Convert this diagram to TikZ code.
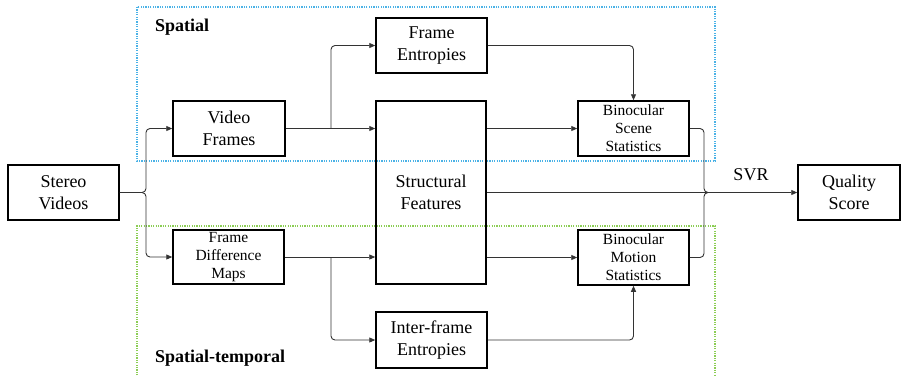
\documentclass[tikz,border=0pt]{standalone}
\usepackage{fontspec}
\setmainfont{Liberation Serif}
\usetikzlibrary{arrows.meta}
\definecolor{spblue}{RGB}{75,178,230}
\definecolor{stgreen}{RGB}{140,205,85}
\begin{document}
\begin{tikzpicture}[x=1pt,y=-1pt,
  blk/.style={draw,line width=1.5pt,inner sep=0pt,align=center,font=\fontsize{18}{21.5}\selectfont},
  sblk/.style={blk,font=\fontsize{15.5}{18}\selectfont},
  conn/.style={line width=0.9pt,draw=black!80},
  arr/.style={conn,-{Triangle[length=6pt,width=5pt]}},
  grp/.style={line width=1.2pt,dash pattern=on 1.2pt off 1.2pt},
  lbl/.style={font=\fontsize{18}{21}\selectfont\bfseries,anchor=west,inner sep=0pt}]
\useasboundingbox (0,0) rectangle (903,376);
% group frames
\draw[grp,spblue] (137,7) rectangle (715,161);
\draw[grp,stgreen] (137,385) -- (137,226) -- (715,226) -- (715,385);
\node[lbl] (lsp) at (155,27) {Spatial};
\node[lbl] (lst) at (155,358) {Spatial-temporal};
% blocks
\node[blk,minimum width=111pt,minimum height=55pt] (sv) at (63.5,192.5) {Stereo\\Videos};
\node[blk,minimum width=112pt,minimum height=55pt] (vf) at (229,128.5) {Video\\Frames};
\node[sblk,minimum width=111pt,minimum height=54pt] (fdm) at (228.5,257) {Frame\\Difference\\Maps};
\node[blk,minimum width=111pt,minimum height=55pt] (fe) at (431.5,45.5) {Frame\\Entropies};
\node[blk,minimum width=111pt,minimum height=56pt] (ie) at (431.5,340) {Inter-frame\\Entropies};
\node[blk,minimum width=110pt,minimum height=183pt] (sf) at (431,192.5) {Structural\\Features};
\node[sblk,minimum width=111pt,minimum height=55pt] (bss) at (633.5,128.5) {Binocular\\Scene\\Statistics};
\node[sblk,minimum width=111pt,minimum height=55pt] (bms) at (633.5,257.5) {Binocular\\Motion\\Statistics};
\node[blk,minimum width=102pt,minimum height=55pt] (qs) at (849,192.5) {Quality\\Score};
\node[font=\fontsize{18}{21}\selectfont] (svr) at (751,175) {SVR};
% connectors
\coordinate (sp) at (146,192.5);
\coordinate (b1) at (331,128.5);
\coordinate (b2) at (331,257);
\coordinate (mg) at (704,192.5);
\draw[arr,rounded corners=4pt] (sv.east) -- (sp) |- (vf.west);
\draw[arr,rounded corners=4pt] (sv.east) -- (sp) |- (fdm.west);
\draw[arr] (vf.east) -- (sf.west |- vf.east);
\draw[arr,rounded corners=4pt] (b1) |- (fe.west);
\draw[arr] (fdm.east) -- (sf.west |- fdm.east);
\draw[arr,rounded corners=4pt] (b2) |- (ie.west);
\draw[arr,rounded corners=4pt] (fe.east) -| (bss.north);
\draw[arr,rounded corners=4pt] (ie.east) -| (bms.south);
\draw[arr] (sf.east |- bss.west) -- (bss.west);
\draw[arr] (sf.east |- bms.west) -- (bms.west);
\draw[arr] (sf.east) -- (qs.west);
\draw[conn,rounded corners=4pt] (bss.east) -| (mg) -- ([xshift=6pt]mg);
\draw[conn,rounded corners=4pt] (bms.east) -| (mg) -- ([xshift=6pt]mg);
\end{tikzpicture}
\end{document}
